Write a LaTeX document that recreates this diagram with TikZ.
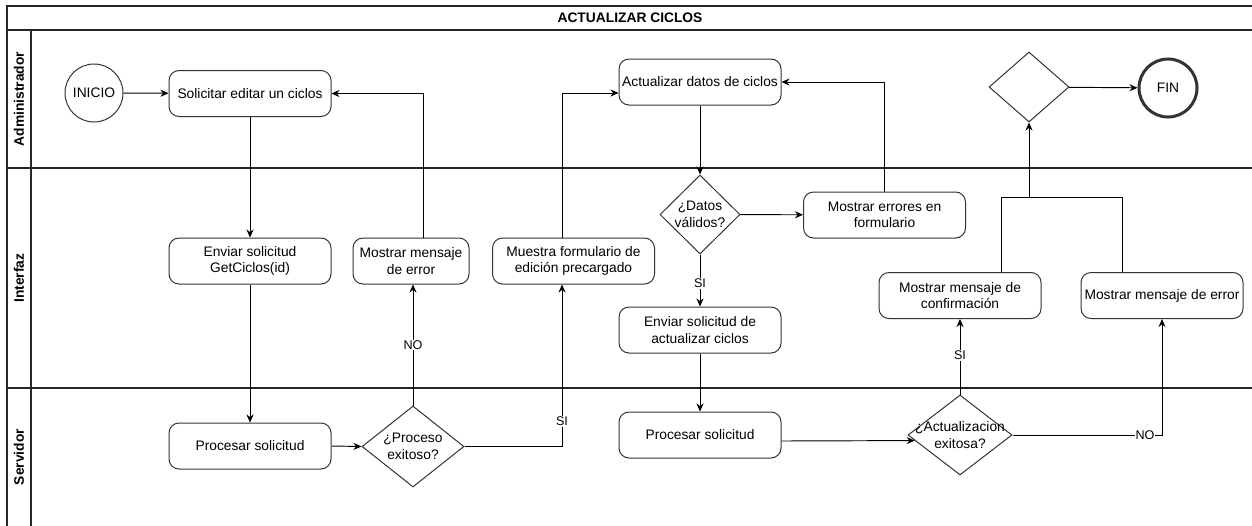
\documentclass[tikz,border=0pt]{standalone}
\usepackage{fontspec}
\setmainfont{Liberation Sans}
\usetikzlibrary{shapes.geometric,arrows.meta}
\newcommand\dfont{\fontsize{13.8}{16.5}\selectfont}
\newcommand\lfont{\fontsize{12.6}{14}\selectfont}
\begin{document}
\begin{tikzpicture}[x=1pt,y=-1pt,
  frameline/.style={line width=1.3pt, draw=black!85},
  lanetitle/.style={font=\dfont\bfseries, rotate=90},
  task/.style={draw=black!80, line width=1pt, rounded corners=10pt,
    minimum width=162pt, minimum height=46pt, align=center, font=\dfont, inner sep=1pt},
  dec/.style={draw=black!80, line width=1pt, diamond, inner sep=0pt},
  term/.style={draw=black!80, line width=1pt, circle, minimum size=58pt, font=\dfont, inner sep=0pt},
  arr/.style={line width=0.95pt, -{Stealth[length=8pt,width=7pt]}},
  conn/.style={line width=0.95pt},
  elabel/.style={fill=white, font=\lfont, inner sep=1pt}
]
\useasboundingbox (0,0) rectangle (1252,525);
\clip (0,0) rectangle (1252,525);

% pool frame and lanes
\draw[frameline] (7,540) -- (7,6) -- (1260,6);
\draw[frameline] (7,30) -- (1260,30);
\draw[frameline] (31,30) -- (31,540);
\draw[frameline] (7,168) -- (1260,168);
\draw[frameline] (7,388) -- (1260,388);
\node[font=\dfont\bfseries] (title) at (630,18) {ACTUALIZAR CICLOS};
\node[lanetitle] (l1) at (19,99) {Administrador};
\node[lanetitle] (l2) at (19,278) {Interfaz};
\node[lanetitle] (l3) at (19,457) {Servidor};

% Administrador
\node[term] (ini) at (94,93) {INICIO};
\node[task] (sol) at (250,93.5) {Solicitar editar un ciclos};
\node[task] (act) at (700,82) {Actualizar datos de ciclos};
\node[dec, minimum width=80pt, minimum height=70pt] (dt) at (1029,87) {};
\node[term, line width=3pt] (fin) at (1168,88) {FIN};

% Interfaz
\node[task] (env1) at (250,261) {Enviar solicitud\\GetCiclos(id)};
\node[task, minimum width=116pt] (err1) at (411,261) {Mostrar mensaje\\de error};
\node[task] (mf) at (573.5,261) {Muestra formulario de\\edición precargado};
\node[dec, minimum width=80pt, minimum height=79pt,
  label={[font=\dfont, align=center]center:¿Datos\\válidos?}] (dv) at (700,214.5) {};
\node[task] (merr) at (884.5,215) {Mostrar errores en\\formulario};
\node[task] (env2) at (700,330) {Enviar solicitud de\\actualizar ciclos};
\node[task] (conf) at (960,295.5) {Mostrar mensaje de\\confirmación};
\node[task] (errr) at (1162,295.5) {Mostrar mensaje de error};

% Servidor
\node[task] (proc1) at (250,446) {Procesar solicitud};
\node[dec, minimum width=102pt, minimum height=81pt,
  label={[font=\dfont, align=center]center:¿Proceso\\exitoso?}] (dp) at (413,446.5) {};
\node[task] (proc2) at (700,435) {Procesar solicitud};
\node[dec, minimum width=104pt, minimum height=80pt,
  label={[font=\dfont, align=center]center:¿Actualizacion\\exitosa?}] (da) at (960,435) {};

% connectors
\draw[arr] (ini) -- (sol);
\draw[arr] (sol) -- (env1);
\draw[arr] (env1) -- (proc1);
\draw[arr] (proc1.east) -- (dp.west);
\draw[arr] (dp.north) -- (dp.north |- err1.south) node[elabel, midway] {NO};
\draw[arr] ([xshift=12pt]err1.north) |- (sol.east);
\draw[arr] (dp.east) -| ([xshift=-11.5pt]mf.south) node[elabel, pos=0.577] {SI};
\draw[arr] ([xshift=-11.5pt]mf.north) |- ([yshift=-11pt]act.west);
\draw[arr] (act) -- (dv);
\draw[arr] (dv) -- (merr);
\draw[arr] (merr.north) |- (act.east);
\draw[arr] (dv.south) -- (env2.north) node[elabel, pos=0.55] {SI};
\draw[arr] (env2) -- (proc2);
\draw[arr] ([yshift=-6pt]proc2.east) -- (da.187.7);
\draw[arr] (da.north) -- (conf.south) node[elabel, pos=0.52] {SI};
\draw[arr] (da.east) -| (errr.south) node[elabel, pos=0.443] {NO};
\coordinate (jn) at (1029,197);
\draw[conn] ([xshift=41pt]conf.north) |- (jn);
\draw[conn] ([xshift=-40pt]errr.north) |- (jn);
\draw[arr] (jn) -- (dt.south);
\draw[arr] (dt) -- (fin);
\end{tikzpicture}
\end{document}
